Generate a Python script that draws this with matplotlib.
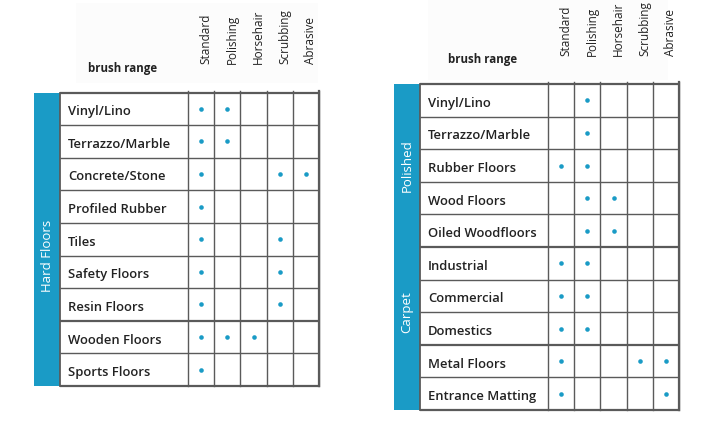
import matplotlib.pyplot as plt
from matplotlib.patches import Rectangle

brushes = ["Standard", "Polishing", "Horsehair", "Scrubbing", "Abrasive"]

left_rows = ["Vinyl/Lino", "Terrazzo/Marble", "Concrete/Stone", "Profiled Rubber",
             "Tiles", "Safety Floors", "Resin Floors", "Wooden Floors", "Sports Floors"]
left_marks = [
    [1, 1, 0, 0, 0],
    [1, 1, 0, 0, 0],
    [1, 0, 0, 1, 1],
    [1, 0, 0, 0, 0],
    [1, 0, 0, 1, 0],
    [1, 0, 0, 1, 0],
    [1, 0, 0, 1, 0],
    [1, 1, 1, 0, 0],
    [1, 0, 0, 0, 0],
]
left_groups = [("Hard Floors", 0, 9)]

right_rows = ["Vinyl/Lino", "Terrazzo/Marble", "Rubber Floors", "Wood Floors",
              "Oiled Woodfloors", "Industrial", "Commercial", "Domestics",
              "Metal Floors", "Entrance Matting"]
right_marks = [
    [0, 1, 0, 0, 0],
    [0, 1, 0, 0, 0],
    [1, 1, 0, 0, 0],
    [0, 1, 1, 0, 0],
    [0, 1, 1, 0, 0],
    [1, 1, 0, 0, 0],
    [1, 1, 0, 0, 0],
    [1, 1, 0, 0, 0],
    [1, 0, 0, 1, 1],
    [1, 0, 0, 0, 1],
]
right_groups = [("Polished", 0, 4), ("Carpet", 5, 8)]

BLUE = "#1a9bc6"
LINE = "#5a5a5a"
TEXT = "#222222"
FONT = "Open Sans"

fig = plt.figure(figsize=(7.04, 4.24), dpi=100)
ax = fig.add_axes([0, 0, 1, 1])
ax.set_xlim(0, 704)
ax.set_ylim(424, 0)
ax.axis("off")


def draw_table(x0, top, rows, marks, groups, thick, head_box):
    band_w = 25.5
    label_w = 128.5
    col_w = 26.2
    row_h = 32.6
    n = len(rows)
    xl = x0 + band_w
    xc = xl + label_w
    xr = xc + col_w * len(brushes)
    bottom = top + n * row_h

    # very faint header panel
    hx, hy, hw, hh = head_box
    ax.add_patch(Rectangle((hx, hy), hw, hh, color="#fcfcfc", lw=0, zorder=0))

    ax.add_patch(Rectangle((x0, top), band_w, n * row_h, color=BLUE, lw=0, zorder=1))
    for name, r0, r1 in groups:
        ax.text(x0 + band_w / 2 + 0.5, top + (r0 + r1 + 1) / 2 * row_h, name,
                rotation=90, color="white", fontsize=9.5, family=FONT,
                ha="center", va="center", zorder=3)

    # grid
    for i in range(n + 1):
        y = top + i * row_h
        lw = 1.6 if (i in (0, n) or i in thick) else 1.0
        ax.plot([xl, xr], [y, y], color=LINE, lw=lw, zorder=2, solid_capstyle="butt")
    for j in range(len(brushes) + 1):
        x = xc + j * col_w
        ax.plot([x, x], [top - 2, bottom], color=LINE, lw=1.0, zorder=2)
    ax.plot([xl, xl], [top, bottom], color=LINE, lw=1.3, zorder=2)
    ax.plot([xr, xr], [top - 2, bottom], color=LINE, lw=1.6, zorder=2)

    for i, name in enumerate(rows):
        yc = top + (i + 0.5) * row_h
        ax.text(xl + 8.5, yc + 3, name, fontsize=9.4, family=FONT, color=TEXT,
                weight="semibold", ha="left", va="center", zorder=3)
        for j, v in enumerate(marks[i]):
            if v:
                ax.plot(xc + (j + 0.5) * col_w, yc, "o", ms=3.3, color=BLUE,
                        mec="none", zorder=3)

    for j, b in enumerate(brushes):
        ax.text(xc + (j + 0.5) * col_w + 5, top - 28, b, rotation=90,
                fontsize=8.5, family=FONT, color=TEXT, ha="center", va="bottom",
                zorder=3)
    ax.text(xl + 28, top - 24, "brush range", fontsize=8.3, family=FONT,
            weight="bold", color=TEXT, ha="left", va="center", zorder=3)


draw_table(34, 92.5, left_rows, left_marks, left_groups, [7], (76, 3, 242, 80))
draw_table(394, 84, right_rows, right_marks, right_groups, [5, 8], (428, 0, 240, 80))

fig.savefig("out.png", dpi=100, facecolor="white")
